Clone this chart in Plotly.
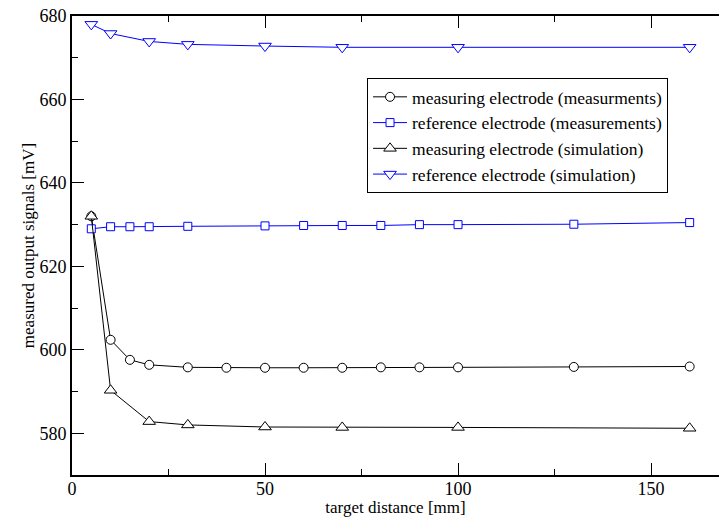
import plotly.graph_objects as go

# Data
x_meas_meas = [5, 10, 15, 20, 30, 40, 50, 60, 70, 80, 90, 100, 130, 160]
y_meas_meas = [632.0, 602.4, 597.6, 596.4, 595.8, 595.7, 595.7, 595.7, 595.7, 595.8, 595.8, 595.8, 595.9, 596.0]

x_ref_meas = [5, 10, 15, 20, 30, 50, 60, 70, 80, 90, 100, 130, 160]
y_ref_meas = [629.0, 629.5, 629.5, 629.5, 629.6, 629.7, 629.8, 629.8, 629.8, 630.0, 630.0, 630.1, 630.5]

x_meas_sim = [5, 10, 20, 30, 50, 70, 100, 160]
y_meas_sim = [632.0, 590.3, 582.8, 582.0, 581.5, 581.4, 581.4, 581.2]

x_ref_sim = [5, 10, 20, 30, 50, 70, 100, 160]
y_ref_sim = [678.0, 675.8, 673.9, 673.2, 672.8, 672.5, 672.5, 672.5]

names = [
    "measuring electrode (measurments)",
    "reference electrode (measurements)",
    "measuring electrode (simulation)",
    "reference electrode (simulation)",
]

FONT = "Liberation Serif"
BLACK = "#000000"
BLUE = "#0000ff"

fig = go.Figure()

def add(xs, ys, name, color, symbol, size):
    fig.add_trace(go.Scatter(
        x=xs, y=ys, name=name, mode="lines+markers",
        line=dict(color=color, width=1),
        marker=dict(symbol=symbol, size=size, color="white",
                    line=dict(color=color, width=1)),
    ))

add(x_meas_meas, y_meas_meas, names[0], BLACK, "circle", 9)
add(x_ref_meas, y_ref_meas, names[1], BLUE, "square", 8)
add(x_meas_sim, y_meas_sim, names[2], BLACK, "triangle-up", 11)
add(x_ref_sim, y_ref_sim, names[3], BLUE, "triangle-down", 11)

fig.update_layout(
    width=719, height=517,
    margin=dict(l=72, r=0, t=16, b=42),
    paper_bgcolor="white", plot_bgcolor="white",
    font=dict(family=FONT, size=17, color=BLACK),
    showlegend=True,
    legend=dict(
        x=0.456, y=0.865, xanchor="left", yanchor="top",
        bgcolor="white", bordercolor=BLACK, borderwidth=1,
        font=dict(family=FONT, size=17.5, color=BLACK),
        itemwidth=34, tracegroupgap=0,
    ),
    xaxis=dict(
        range=[0, 167.6], tickvals=[0, 50, 100, 150],
        ticks="inside", ticklen=12, tickwidth=1, tickcolor=BLACK,
        minor=dict(tickvals=[25, 75, 125], ticks="inside", ticklen=6, tickcolor=BLACK, tickwidth=1),
        showline=True, linecolor=BLACK, linewidth=2, mirror="ticks",
        showgrid=False, zeroline=False,
        tickfont=dict(family=FONT, size=18),
        ticklabelstandoff=-4,
        title=dict(text="target distance [mm]", font=dict(family=FONT, size=17), standoff=2),
    ),
    yaxis=dict(
        range=[570, 680], tickvals=[580, 600, 620, 640, 660, 680],
        ticks="inside", ticklen=12, tickwidth=1, tickcolor=BLACK,
        minor=dict(tickvals=[570, 590, 610, 630, 650, 670], ticks="inside", ticklen=6, tickcolor=BLACK, tickwidth=1),
        showline=True, linecolor=BLACK, linewidth=2,
        showgrid=False, zeroline=False,
        tickfont=dict(family=FONT, size=18),
        title=dict(text="measured output signals [mV]", font=dict(family=FONT, size=17), standoff=0),
    ),
)

fig.write_html("out.html")
